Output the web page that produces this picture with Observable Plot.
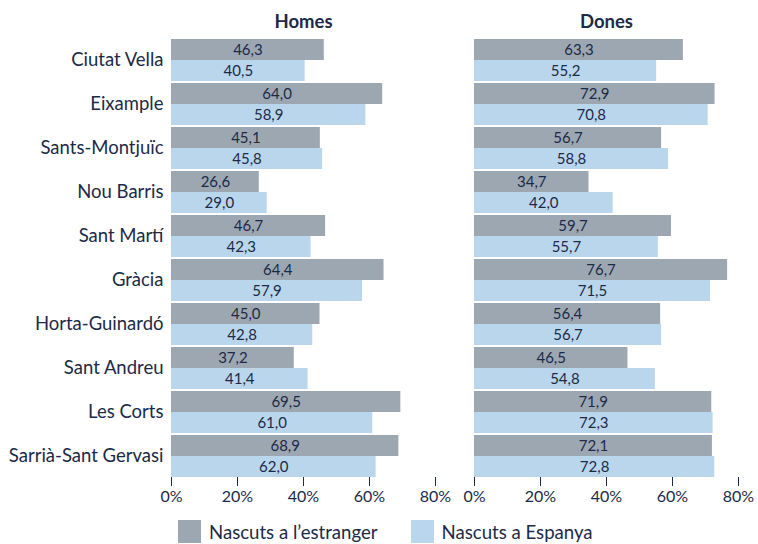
<!DOCTYPE html>
<html>
<head>
<meta charset="utf-8">
<script src="https://cdn.jsdelivr.net/npm/d3@7"></script>
<script src="https://cdn.jsdelivr.net/npm/@observablehq/plot@0.6"></script>
<style>
  body { margin: 0; background: #fff; font-family: Lato, sans-serif; color: #1b2a47; }
  #chart svg { display: block; }
  .legend { display: flex; align-items: center; margin-left: 178px; margin-top: 10px; font-size: 18.6px; color: #1b2a47; }
  .legend .item { display: flex; align-items: center; margin-right: 33px; }
  .legend .sw { width: 23px; height: 23px; margin-right: 8px; }
</style>
</head>
<body>
<div id="chart"></div>
<script>
const districts = ["Ciutat Vella","Eixample","Sants-Montjuïc","Nou Barris","Sant Martí","Gràcia","Horta-Guinardó","Sant Andreu","Les Corts","Sarrià-Sant Gervasi"];
const sexes = ["Homes","Dones"];
const groups = ["Nascuts a l’estranger","Nascuts a Espanya"];
const homesEstranger = [46.3, 64.0, 45.1, 26.6, 46.7, 64.4, 45.0, 37.2, 69.5, 68.9];
const homesEspanya   = [40.5, 58.9, 45.8, 29.0, 42.3, 57.9, 42.8, 41.4, 61.0, 62.0];
const donesEstranger = [63.3, 72.9, 56.7, 34.7, 59.7, 76.7, 56.4, 46.5, 71.9, 72.1];
const donesEspanya   = [55.2, 70.8, 58.8, 42.0, 55.7, 71.5, 56.7, 54.8, 72.3, 72.8];
const xTicks = [0, 20, 40, 60, 80];
const colors = ["#9da7b2", "#bad6ec"];
const ink = "#1b2a47";

const series = [
  ["Homes", groups[0], homesEstranger],
  ["Homes", groups[1], homesEspanya],
  ["Dones", groups[0], donesEstranger],
  ["Dones", groups[1], donesEspanya]
];
const data = [];
for (const [sex, group, vals] of series) {
  vals.forEach((v, i) => data.push({sex, group, district: districts[i], value: v}));
}

const chart = Plot.plot({
  width: 758,
  height: 510,
  marginLeft: 171,
  marginRight: 20,
  marginTop: 38,
  marginBottom: 32,
  style: {fontFamily: "Lato, sans-serif", fontSize: "15px", color: ink, background: "#fff"},
  fx: {domain: sexes, paddingInner: 39 / 303, paddingOuter: 0, label: null, axis: null},
  fy: {domain: districts, paddingInner: 0.05, paddingOuter: 0, label: null, axis: null},
  x: {domain: [0, 80], label: null, axis: null},
  y: {domain: groups, padding: 0, axis: null},
  color: {domain: groups, range: colors},
  marks: [
    Plot.barX(data, {fx: "sex", fy: "district", y: "group", x: "value", fill: "group"}),
    Plot.text(data, {fx: "sex", fy: "district", y: "group", x: d => d.value / 2,
      text: d => d.value.toFixed(1).replace(".", ","), fill: ink, fontSize: 15}),
    Plot.axisFx({anchor: "top", label: null, tickSize: 0, tickPadding: 12, fill: ink, ariaLabel: "fxaxis"}),
    Plot.axisFy({anchor: "left", label: null, tickSize: 0, tickPadding: 8, fill: ink, ariaLabel: "fyaxis"}),
    Plot.axisX({anchor: "bottom", ticks: xTicks, tickFormat: d => d + "%", tickSize: 9, tickPadding: 4, label: null, stroke: ink, fill: ink, ariaLabel: "xaxis"})
  ]
});
document.getElementById("chart").appendChild(chart);

// font styling for axis labels
chart.querySelectorAll('g[aria-label^="fxaxis"] text').forEach(t => {
  t.style.fontSize = "18.5px"; t.style.fontWeight = "bold";
});
chart.querySelectorAll('g[aria-label^="fyaxis"] text').forEach(t => { t.style.fontSize = "18.5px"; });
chart.querySelectorAll('g[aria-label^="xaxis"] text').forEach(t => { t.style.fontSize = "16px"; });

const legend = document.createElement("div");
legend.className = "legend";
groups.forEach((g, i) => {
  const item = document.createElement("div");
  item.className = "item";
  const sw = document.createElement("div");
  sw.className = "sw";
  sw.style.background = colors[i];
  const t = document.createElement("span");
  t.textContent = g;
  item.appendChild(sw);
  item.appendChild(t);
  legend.appendChild(item);
});
document.body.appendChild(legend);
</script>
</body>
</html>
